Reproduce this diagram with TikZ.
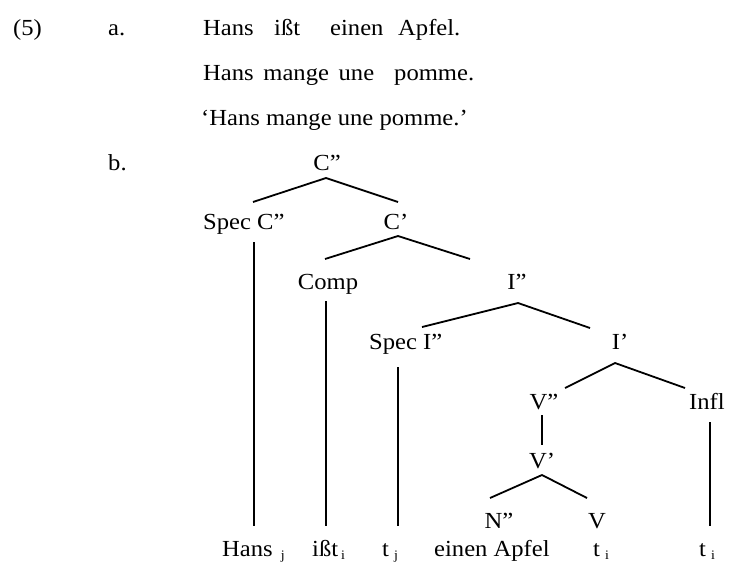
\documentclass[tikz,border=0pt]{standalone}
\usepackage{fontspec}
\setmainfont{Liberation Serif}[FakeStretch=1.07]
\begin{document}
\begin{tikzpicture}[x=1pt,y=-1pt,
  lbl/.style={inner sep=0pt,anchor=base,font=\fontsize{23}{27}\selectfont},
  lblw/.style={lbl,anchor=base west},
  branch/.style={line width=1.8pt,line cap=butt}]
\newcommand{\sbs}[1]{\raisebox{-3pt}{\fontsize{13}{15}\selectfont #1}}
\useasboundingbox (0,0) rectangle (730,563);

% example number and sub-labels
\node[lblw] (num) at (13,35) {(5)};
\node[lblw] (la) at (108,35) {a.};
\node[lblw] (lb) at (108,170) {b.};

% (5a): German sentence, gloss, translation
\node[lblw] (g1) at (203,35) {Hans};
\node[lblw] (g2) at (274,35) {ißt};
\node[lblw] (g3) at (330,35) {einen};
\node[lblw] (g4) at (398,35) {Apfel.};
\node[lblw] (gl1) at (203,80) {\makebox[171pt][s]{Hans mange une}};
\node[lblw] (gl2) at (394,80) {pomme.};
\node[lblw] (tr) at (201,125) {‘Hans mange une pomme.’};

% (5b): tree labels
\node[lbl] (cpp) at (327,170) {C”};
\node[lblw] (spc) at (203,229) {Spec C”};
\node[lbl] (cp) at (396,229) {C’};
\node[lbl] (comp) at (328,289) {Comp};
\node[lbl] (ipp) at (517,289) {I”};
\node[lblw] (spi) at (369,349) {Spec I”};
\node[lbl] (ip) at (620,349) {I’};
\node[lbl] (vpp) at (544,409) {V”};
\node[lblw] (infl) at (689,409) {Infl};
\node[lbl] (vp) at (542,468) {V’};
\node[lbl] (npp) at (499,528) {N”};
\node[lbl] (v) at (597,528) {V};

% terminal string
\node[lblw] (hans) at (222,556) {Hans\hspace{8pt}\sbs{j}};
\node[lblw] (isst) at (312,556) {ißt\hspace{3pt}\sbs{i}};
\node[lblw] (tj) at (382,556) {t\hspace{5pt}\sbs{j}};
\node[lblw] (apfel) at (434,556) {einen Apfel};
\node[lblw] (ti1) at (593,556) {t\hspace{5pt}\sbs{i}};
\node[lblw] (ti2) at (699,556) {t\hspace{5pt}\sbs{i}};

% attachment points of the branches
\coordinate (cpp-b) at (326,178);
\coordinate (spc-t) at (253,202);
\coordinate (cp-t) at (398,202);
\coordinate (cp-b) at (398,236);
\coordinate (comp-t) at (325,259);
\coordinate (ipp-t) at (470,259);
\coordinate (ipp-b) at (518,303);
\coordinate (spi-t) at (422,327);
\coordinate (ip-t) at (590,328);
\coordinate (ip-b) at (615,363);
\coordinate (vpp-t) at (565,388);
\coordinate (infl-t) at (685,388);
\coordinate (vpp-b) at (542,415);
\coordinate (vp-t) at (542,445);
\coordinate (vp-b) at (542,475);
\coordinate (npp-t) at (490,498);
\coordinate (v-t) at (587,498);
\coordinate (spc-b) at (254,242);
\coordinate (comp-b) at (326,301);
\coordinate (spi-b) at (398,367);
\coordinate (infl-b) at (710,422);
\coordinate (hans-t) at (254,526);
\coordinate (isst-t) at (326,526);
\coordinate (tj-t) at (398,526);
\coordinate (ti2-t) at (710,526);

% branches
\draw[branch] (spc-t) -- (cpp-b) -- (cp-t);
\draw[branch] (comp-t) -- (cp-b) -- (ipp-t);
\draw[branch] (spi-t) -- (ipp-b) -- (ip-t);
\draw[branch] (vpp-t) -- (ip-b) -- (infl-t);
\draw[branch] (vpp-b) -- (vp-t);
\draw[branch] (npp-t) -- (vp-b) -- (v-t);
\draw[branch] (spc-b) -- (hans-t);
\draw[branch] (comp-b) -- (isst-t);
\draw[branch] (spi-b) -- (tj-t);
\draw[branch] (infl-b) -- (ti2-t);
\end{tikzpicture}
\end{document}
